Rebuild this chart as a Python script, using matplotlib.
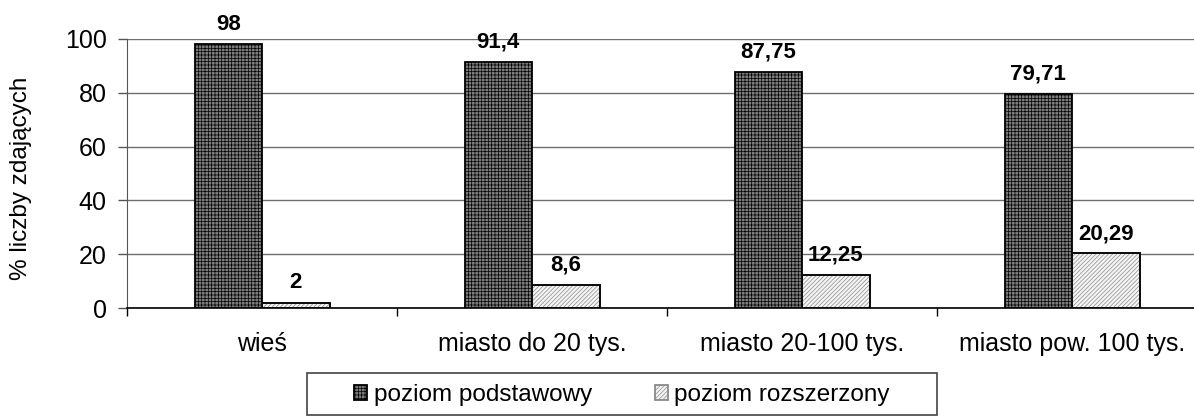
import matplotlib
matplotlib.use('Agg')
import matplotlib.pyplot as plt
from matplotlib.patches import Rectangle
import numpy as np

kategorie = ['wieś', 'miasto do 20 tys.', 'miasto 20-100 tys.', 'miasto pow. 100 tys.']
podstawowy = [98, 91.4, 87.75, 79.71]
rozszerzony = [2, 8.6, 12.25, 20.29]
etyk_podst = ['98', '91,4', '87,75', '79,71']
etyk_rozsz = ['2', '8,6', '12,25', '20,29']

plt.rcParams['font.family'] = ['Liberation Sans', 'DejaVu Sans']
plt.rcParams['hatch.linewidth'] = 0.5

fig = plt.figure(figsize=(11.94, 4.16), dpi=100)
# os wychodzi poza prawa krawedz jak w oryginale
ax = fig.add_axes([127/1194, 1 - 308/416, 1080/1194, 269/416])

x = np.arange(len(kategorie))
w = 0.25
b1 = ax.bar(x - w/2, podstawowy, w, color='#7c7c7c', edgecolor='black', hatch='+++++',
            linewidth=1.3, label='poziom podstawowy', zorder=3)
b2 = ax.bar(x + w/2, rozszerzony, w, color='#f4f4f4', edgecolor='#8a8a8a', hatch='////////',
            linewidth=1.3, label='poziom rozszerzony', zorder=3)
# obramowanie czarne, kreskowanie szare
for r in b2:
    ax.add_patch(Rectangle(r.get_xy(), r.get_width(), r.get_height(), fill=False,
                           edgecolor='black', linewidth=1.3, zorder=4))

for xi, v, t in zip(x - w/2, podstawowy, etyk_podst):
    ax.text(xi, v + 3.5, t, ha='center', va='bottom', fontsize=16, fontweight='bold')
for xi, v, t in zip(x + w/2, rozszerzony, etyk_rozsz):
    ax.text(xi, v + 3.5, t, ha='center', va='bottom', fontsize=16, fontweight='bold')

ax.set_xlim(-0.5, 3.5)
ax.set_ylim(0, 100)
ax.set_yticks([0, 20, 40, 60, 80, 100])
ax.yaxis.grid(True, color='#6e6e6e', linewidth=1, zorder=0)
ax.set_axisbelow(True)
for s in ['top', 'right']:
    ax.spines[s].set_visible(False)
ax.spines['left'].set_color('#555555')
ax.spines['bottom'].set_color('black')
ax.spines['bottom'].set_linewidth(1.2)
ax.tick_params(axis='y', direction='out', length=6.5, width=1, pad=8, labelsize=18,
               color='#555555')
ax.set_xticks(np.arange(-0.5, 4, 1))
ax.set_xticklabels([])
ax.tick_params(axis='x', direction='out', length=6, width=1, color='black')
ax.set_xticks(x, minor=True)
ax.set_xticklabels(kategorie, minor=True, fontsize=18)
ax.tick_params(axis='x', which='minor', length=0, pad=17)
fig.text(21/1194, 1 - 178/416, '% liczby zdających', rotation=90, fontsize=17.5,
         ha='center', va='center')

# legenda w ramce pod wykresem
fig.patches.append(Rectangle((307/1194, 1 - 415/416), 630/1194, 42/416,
                             transform=fig.transFigure, fill=False,
                             edgecolor='#444444', linewidth=1.2))
leg = fig.legend(loc='center', bbox_to_anchor=(622/1194, 1 - 395/416), ncol=2,
                 frameon=False, fontsize=17.5, handlelength=0.55, handleheight=0.55,
                 handletextpad=0.25, columnspacing=2.6, borderpad=0.2)

fig.savefig('out.png', dpi=100)
